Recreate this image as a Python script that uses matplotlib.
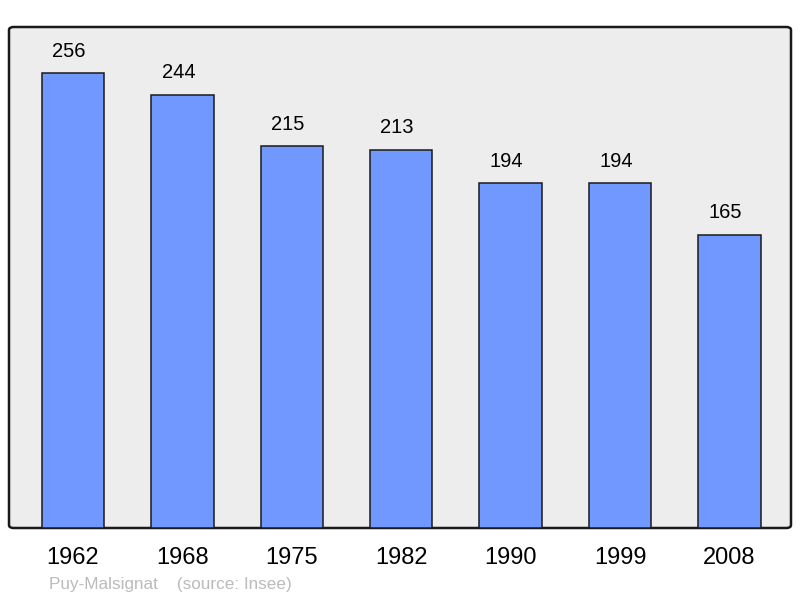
import matplotlib
matplotlib.use("Agg")
import matplotlib.pyplot as plt
from matplotlib.patches import FancyBboxPatch

years = ["1962", "1968", "1975", "1982", "1990", "1999", "2008"]
population = [256, 244, 215, 213, 194, 194, 165]
footer = "Puy-Malsignat    (source: Insee)"

plt.rcParams['font.family'] = ['Liberation Sans', 'DejaVu Sans']

fig = plt.figure(figsize=(8, 5.98), dpi=100)
W, H = 800, 598
ax = fig.add_axes([9 / W, 1 - 528 / H, 782 / W, 501 / H])
ax.patch.set_visible(False)
bg = FancyBboxPatch((0, 0), 1, 1, boxstyle="round,pad=0,rounding_size=0.006",
                    transform=ax.transAxes, facecolor='#ededed', edgecolor='#1a1a1a',
                    linewidth=1.8, zorder=0, clip_on=False)
ax.add_patch(bg)

x = list(range(len(years)))
ax.bar(x, population, width=0.57, color='#7098ff', edgecolor='#1a1a1a', linewidth=1.1, zorder=2)
for xi, v in zip(x, population):
    ax.text(xi - 0.037, v + 7, str(v), ha='center', va='bottom', fontsize=14.5, color='#000000')

ax.set_xlim(-0.585, 6.562)
ax.set_ylim(0, 282)
for s in ax.spines.values():
    s.set_visible(False)
ax.set_yticks([])
ax.set_xticks(x)
ax.set_xticklabels(years, fontsize=17)
ax.tick_params(axis='x', length=0, pad=14)

fig.text(49 / W, 1 - 584 / H, footer, fontsize=12.3, color='#bbbbbb', ha='left', va='center')

fig.savefig("out.png", dpi=100)
